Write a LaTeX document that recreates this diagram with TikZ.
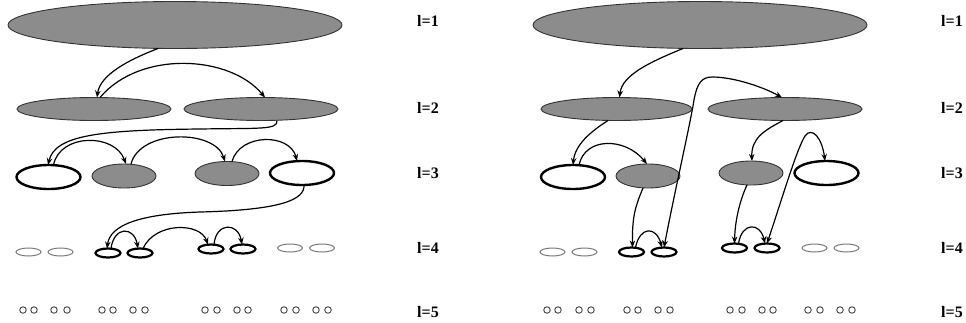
\documentclass[tikz,border=0pt]{standalone}
\usepackage{fontspec}
\setmainfont{Liberation Serif}
\usetikzlibrary{shapes.geometric,arrows.meta}
\definecolor{ellgray}{RGB}{140,140,140}
\definecolor{thingray}{RGB}{120,120,120}
\begin{document}
\begin{tikzpicture}[x=1pt,y=-1pt,
  ell/.style={ellipse,inner sep=0pt,outer sep=0pt},
  gel/.style={ell,fill=ellgray,draw=black!80,line width=0.9pt},
  wel/.style={ell,fill=white,draw=black,line width=2.4pt},
  thk/.style={ell,fill=white,draw=black,line width=2.2pt,minimum width=25pt,minimum height=9pt},
  thn/.style={ell,fill=white,draw=thingray,line width=1pt,minimum width=25pt,minimum height=8pt},
  dot/.style={circle,inner sep=0pt,minimum size=6.5pt,draw=black!75,line width=0.9pt},
  lvl/.style={font=\fontsize{16}{16}\selectfont\bfseries,inner sep=0pt},
  arr/.style={line width=1.2pt,-{Stealth[length=7pt,width=5.5pt]}},
  darr/.style={line width=1.2pt,{Stealth[length=7pt,width=5.5pt]}-{Stealth[length=7pt,width=5.5pt]}}]
\useasboundingbox (0,0) rectangle (966,322);
% ---------------- left diagram ----------------
\node[gel,minimum width=334pt,minimum height=47pt] (a1) at (175,25) {};
\node[gel,minimum width=154pt,minimum height=23pt] (a2a) at (94,109) {};
\node[gel,minimum width=154pt,minimum height=23pt] (a2b) at (261,109) {};
\node[wel,minimum width=64pt,minimum height=24pt] (a3a) at (48.5,177) {};
\node[gel,minimum width=64pt,minimum height=24pt] (a3b) at (124,176) {};
\node[gel,minimum width=64pt,minimum height=24pt] (a3c) at (227,173.5) {};
\node[wel,minimum width=64pt,minimum height=24pt] (a3d) at (302,173) {};
\node[thn] (a4a) at (28.5,252) {};
\node[thn] (a4b) at (60.5,252) {};
\node[thk] (a4c) at (108,253) {};
\node[thk] (a4d) at (140,253) {};
\node[thk] (a4e) at (211,249) {};
\node[thk] (a4f) at (243,249) {};
\node[thn] (a4g) at (290,248) {};
\node[thn] (a4h) at (322,248) {};
\foreach \x [count=\i] in {23,34,54,67,102,113,133,145,205,217,237,248,284,296,316,328}
  \node[dot] (a5\i) at (\x,310) {};
\node[lvl] (la1) at (428,21) {l=1};
\node[lvl] (la2) at (428,108) {l=2};
\node[lvl] (la3) at (428,173) {l=3};
\node[lvl] (la4) at (428,248) {l=4};
\node[lvl] (la5) at (428,312) {l=5};
% arrows left
\draw[arr] ([xshift=-17pt]a1.south) .. controls (128,60) and (100,75) .. ([xshift=3pt]a2a.north);
\draw[arr] ([xshift=6pt]a2a.north) .. controls (140,50) and (230,55) .. ([xshift=4pt]a2b.north);
\draw[arr] ([xshift=16pt]a2b.south) .. controls (278,130) and (260,128) .. (200,129)
  .. controls (100,130) and (55,135) .. ([xshift=-0.5pt]a3a.north);
\draw[arr] ([xshift=5pt]a3a.north) .. controls (60,133) and (115,133) .. ([xshift=2pt]a3b.north);
\draw[arr] ([xshift=7pt]a3b.north) .. controls (140,129) and (215,129) .. ([xshift=-2pt]a3c.north);
\draw[arr] ([xshift=5pt]a3c.north) .. controls (240,133) and (290,133) .. ([xshift=-5pt]a3d.north);
\draw[arr] ([xshift=2pt]a3d.south) .. controls (305,200) and (280,210) .. (200,212)
  .. controls (140,214) and (110,225) .. ([xshift=-1pt]a4c.north);
\draw[arr] ([xshift=3pt]a4c.north) .. controls (114,226) and (134,226) .. ([xshift=-2pt]a4d.north);
\draw[arr] ([xshift=3pt]a4d.north) .. controls (155,222) and (200,222) .. ([xshift=-3pt]a4e.north);
\draw[arr] ([xshift=3pt]a4e.north) .. controls (216,222) and (238,222) .. ([xshift=-1pt]a4f.north);
% ---------------- right diagram ----------------
\node[gel,minimum width=334pt,minimum height=47pt] (b1) at (700,25) {};
\node[gel,minimum width=151pt,minimum height=23pt] (b2a) at (616.5,109) {};
\node[gel,minimum width=154pt,minimum height=23pt] (b2b) at (785,109) {};
\node[wel,minimum width=64pt,minimum height=24pt] (b3a) at (573,177) {};
\node[gel,minimum width=64pt,minimum height=24pt] (b3b) at (648,176) {};
\node[gel,minimum width=64pt,minimum height=24pt] (b3c) at (751,173) {};
\node[wel,minimum width=64pt,minimum height=24pt] (b3d) at (826.5,173) {};
\node[thn] (b4a) at (552.5,252) {};
\node[thn] (b4b) at (584.5,252) {};
\node[thk] (b4c) at (631.5,252) {};
\node[thk] (b4d) at (664,252) {};
\node[thk] (b4e) at (734.5,248) {};
\node[thk] (b4f) at (767,248) {};
\node[thn] (b4g) at (814.5,248) {};
\node[thn] (b4h) at (846.5,248) {};
\foreach \x [count=\i] in {547,558,579,591,627,638,658,670,730,742,762,773,808,820,840,852}
  \node[dot] (b5\i) at (\x,310) {};
\node[lvl] (lb1) at (952,21) {l=1};
\node[lvl] (lb2) at (952,108) {l=2};
\node[lvl] (lb3) at (952,173) {l=3};
\node[lvl] (lb4) at (952,248) {l=4};
\node[lvl] (lb5) at (952,312) {l=5};
% arrows right
\draw[arr] ([xshift=-17pt]b1.south) .. controls (650,62) and (622,75) .. ([xshift=3pt]b2a.north);
\draw[darr] (b4d.north) .. controls (675,190) and (690,125) .. (694,100)
  .. controls (697,83) and (702,77) .. (712,77)
  .. controls (735,77) and (765,88) .. ([xshift=-3pt]b2b.north);
\draw[arr] ([xshift=-8.5pt]b2a.south) .. controls (590,132) and (575,145) .. (b3a.north);
\draw[arr] ([xshift=6pt]b3a.north) .. controls (585,137) and (625,137) .. ([xshift=-1pt]b3b.north);
\draw[arr] ([xshift=-2pt]b2b.south) .. controls (765,130) and (751,138) .. ([xshift=1pt]b3c.north);
\draw[darr] (b4f.north) .. controls (780,205) and (797,148) .. (805,136)
  .. controls (812,126) and (822,138) .. ([xshift=-1.5pt]b3d.north);
\draw[arr] ([xshift=-5pt]b3b.south) .. controls (636,205) and (632,215) .. ([xshift=1pt]b4c.north);
\draw[arr] ([xshift=4pt]b4c.north) .. controls (640,226) and (656,226) .. ([xshift=-2pt]b4d.north);
\draw[arr] ([xshift=-4pt]b3c.south) .. controls (740,200) and (735,220) .. (b4e.north);
\draw[arr] ([xshift=4pt]b4e.north) .. controls (742,222) and (760,222) .. ([xshift=-2pt]b4f.north);
\end{tikzpicture}
\end{document}
